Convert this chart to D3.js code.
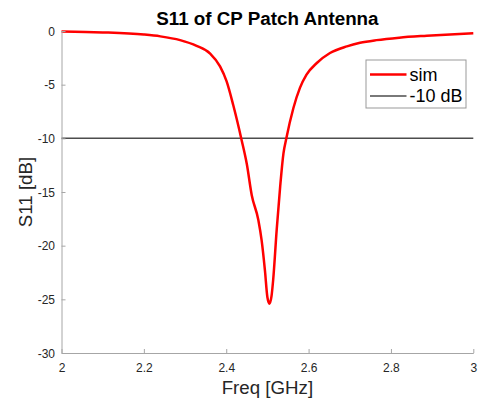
<!DOCTYPE html>
<html>
<head>
<meta charset="utf-8">
<script src="https://cdn.jsdelivr.net/npm/d3@7"></script>
<style>
  html, body { margin: 0; padding: 0; background: #fff; }
  svg { display: block; font-family: "Liberation Sans", Arial, Helvetica, sans-serif; }
</style>
</head>
<body>
<svg id="chart" width="481" height="403"></svg>
<script>
// Simulated S11 of the circularly-polarised patch antenna (GHz, dB)
const freqGHz = [2.00, 2.10, 2.20, 2.24, 2.288, 2.328, 2.361, 2.385, 2.401, 2.417, 2.4376,
  2.45, 2.462, 2.478, 2.486, 2.494, 2.500, 2.505, 2.510, 2.514, 2.5226, 2.531, 2.539, 2.546,
  2.563, 2.579, 2.595, 2.620, 2.652, 2.693, 2.725, 2.765, 2.82, 2.887, 3.00];
const s11dB = [-0.05, -0.13, -0.33, -0.5, -0.85, -1.38, -2.1, -3.3, -4.7, -6.9, -10.2,
  -12.4, -15.3, -17.6, -19.5, -22.3, -24.8, -25.4, -24.7, -23.2, -18.5, -14.5, -11.4, -10.0,
  -7.2, -5.3, -4.07, -2.98, -2.05, -1.43, -1.1, -0.85, -0.62, -0.44, -0.20];
const thresholdDB = -10;
const xTicks = [2, 2.2, 2.4, 2.6, 2.8, 3];
const yTicks = [0, -5, -10, -15, -20, -25, -30];
const seriesNames = ["sim", "-10 dB"];

const svg = d3.select("#chart");
const plotLeft = 61.5, plotRight = 473.3, plotTop = 31, plotBottom = 353;

const x = d3.scaleLinear().domain([2, 3]).range([plotLeft, plotRight]);
const y = d3.scaleLinear().domain([-30, 0]).range([plotBottom, plotTop]);

const axisColor = "#a6a6a6";
const textColor = "#262626";
const plainNumber = d => String(d);

// threshold line and S11 curve
svg.append("line")
  .attr("x1", x(2)).attr("x2", x(3))
  .attr("y1", y(thresholdDB)).attr("y2", y(thresholdDB))
  .attr("stroke", "#4d4d4d").attr("stroke-width", 1.5);

const pts = freqGHz.map((f, i) => [f, s11dB[i]]);
svg.append("path")
  .datum(pts)
  .attr("fill", "none")
  .attr("stroke", "#ff0000")
  .attr("stroke-width", 2.5)
  .attr("stroke-linejoin", "round")
  .attr("d", d3.line().x(d => x(d[0])).y(d => y(d[1])).curve(d3.curveMonotoneX));

// axes (ticks point inward)
const xAxis = svg.append("g").attr("transform", `translate(0,${plotBottom})`)
  .call(d3.axisBottom(x).tickValues(xTicks).tickSizeInner(-4).tickSizeOuter(0)
    .tickFormat(plainNumber));
const yAxis = svg.append("g").attr("transform", `translate(${plotLeft},0)`)
  .call(d3.axisLeft(y).tickValues(yTicks).tickSizeInner(-4).tickSizeOuter(0)
    .tickFormat(plainNumber));

[xAxis, yAxis].forEach(g => {
  g.select(".domain").attr("stroke", axisColor).attr("stroke-width", 1);
  g.selectAll(".tick line").attr("stroke", axisColor);
  g.selectAll(".tick text").attr("fill", textColor)
    .style("font-family", "'Liberation Sans', Arial, sans-serif").style("font-size", "12px");
});
xAxis.selectAll(".tick text").attr("y", 19).attr("dy", 0);
yAxis.selectAll(".tick text").attr("x", -6.5).attr("dy", "0.35em");

// title and axis labels
svg.append("text")
  .attr("x", (plotLeft + plotRight) / 2).attr("y", 25)
  .attr("text-anchor", "middle")
  .style("font-size", "18.8px").style("font-weight", "bold")
  .attr("fill", "#000")
  .text("S11 of CP Patch Antenna");

svg.append("text")
  .attr("x", (plotLeft + plotRight) / 2).attr("y", 394)
  .attr("text-anchor", "middle")
  .style("font-size", "18.7px")
  .attr("fill", textColor)
  .text("Freq [GHz]");

svg.append("text")
  .attr("transform", `translate(32,${(plotTop + plotBottom) / 2}) rotate(-90)`)
  .attr("text-anchor", "middle")
  .style("font-size", "18.7px")
  .attr("fill", textColor)
  .text("S11 [dB]");

// legend
const lg = svg.append("g").attr("transform", "translate(366,60)");
lg.append("rect").attr("width", 100).attr("height", 48)
  .attr("fill", "#fff").attr("stroke", "#999").attr("stroke-width", 1);
const legendStyles = [
  { color: "#ff0000", width: 2.5 },
  { color: "#4d4d4d", width: 1.5 }
];
seriesNames.forEach((name, i) => {
  const yy = 14.5 + i * 21.5;
  lg.append("line").attr("x1", 4).attr("x2", 40.5).attr("y1", yy).attr("y2", yy)
    .attr("stroke", legendStyles[i].color).attr("stroke-width", legendStyles[i].width);
  lg.append("text").attr("x", 43.5).attr("y", yy).attr("dy", "0.35em")
    .style("font-size", "18px").attr("fill", "#000").text(name);
});
</script>
</body>
</html>
